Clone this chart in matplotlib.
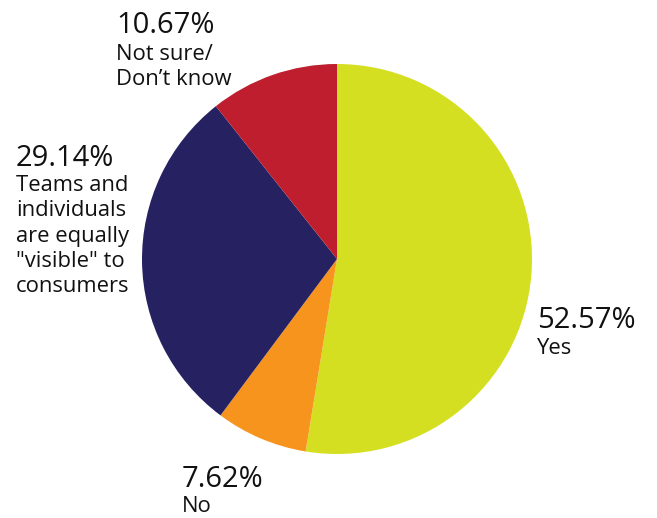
import matplotlib
matplotlib.use("Agg")
import matplotlib.pyplot as plt

categories = ["Yes", "No", "Teams and\nindividuals\nare equally\n\"visible\" to\nconsumers", "Not sure/\nDon\u2019t know"]
values = [52.57, 7.62, 29.14, 10.67]
colors = ["#D5DF22", "#F7941E", "#262262", "#BE1E2D"]

W, H = 657, 518
fig = plt.figure(figsize=(W / 100, H / 100), dpi=100)
plt.rcParams["font.family"] = ["Open Sans", "DejaVu Sans"]

# pie placement (pixels): centre and radius
cx, cy, r = 337, 259, 195
ax = fig.add_axes([(cx - r) / W, (H - cy - r) / H, 2 * r / W, 2 * r / H])
ax.pie(values, colors=colors, startangle=90, counterclock=False, radius=1,
       wedgeprops=dict(linewidth=0))
ax.set_xlim(-1, 1)
ax.set_ylim(-1, 1)
ax.set_aspect("equal")
ax.axis("off")

def px(x, y):
    return x / W, 1 - y / H

# label anchors: (left x, baseline of percentage, baseline of first label line)
anchors = [(537, 328, 354), (182, 487, 512), (16, 166, 191), (116, 33, 60)]
line_gap = 25.3
for cat, val, (x, yp, yl) in zip(categories, values, anchors):
    fig.text(*px(x, yp), f"{val:.2f}%", fontsize=21, color="#111111",
             ha="left", va="baseline")
    for i, line in enumerate(cat.split("\n")):
        fig.text(*px(x, yl + i * line_gap), line, fontsize=15.8, color="#111111",
                 ha="left", va="baseline")

fig.savefig("out.png", dpi=100)
